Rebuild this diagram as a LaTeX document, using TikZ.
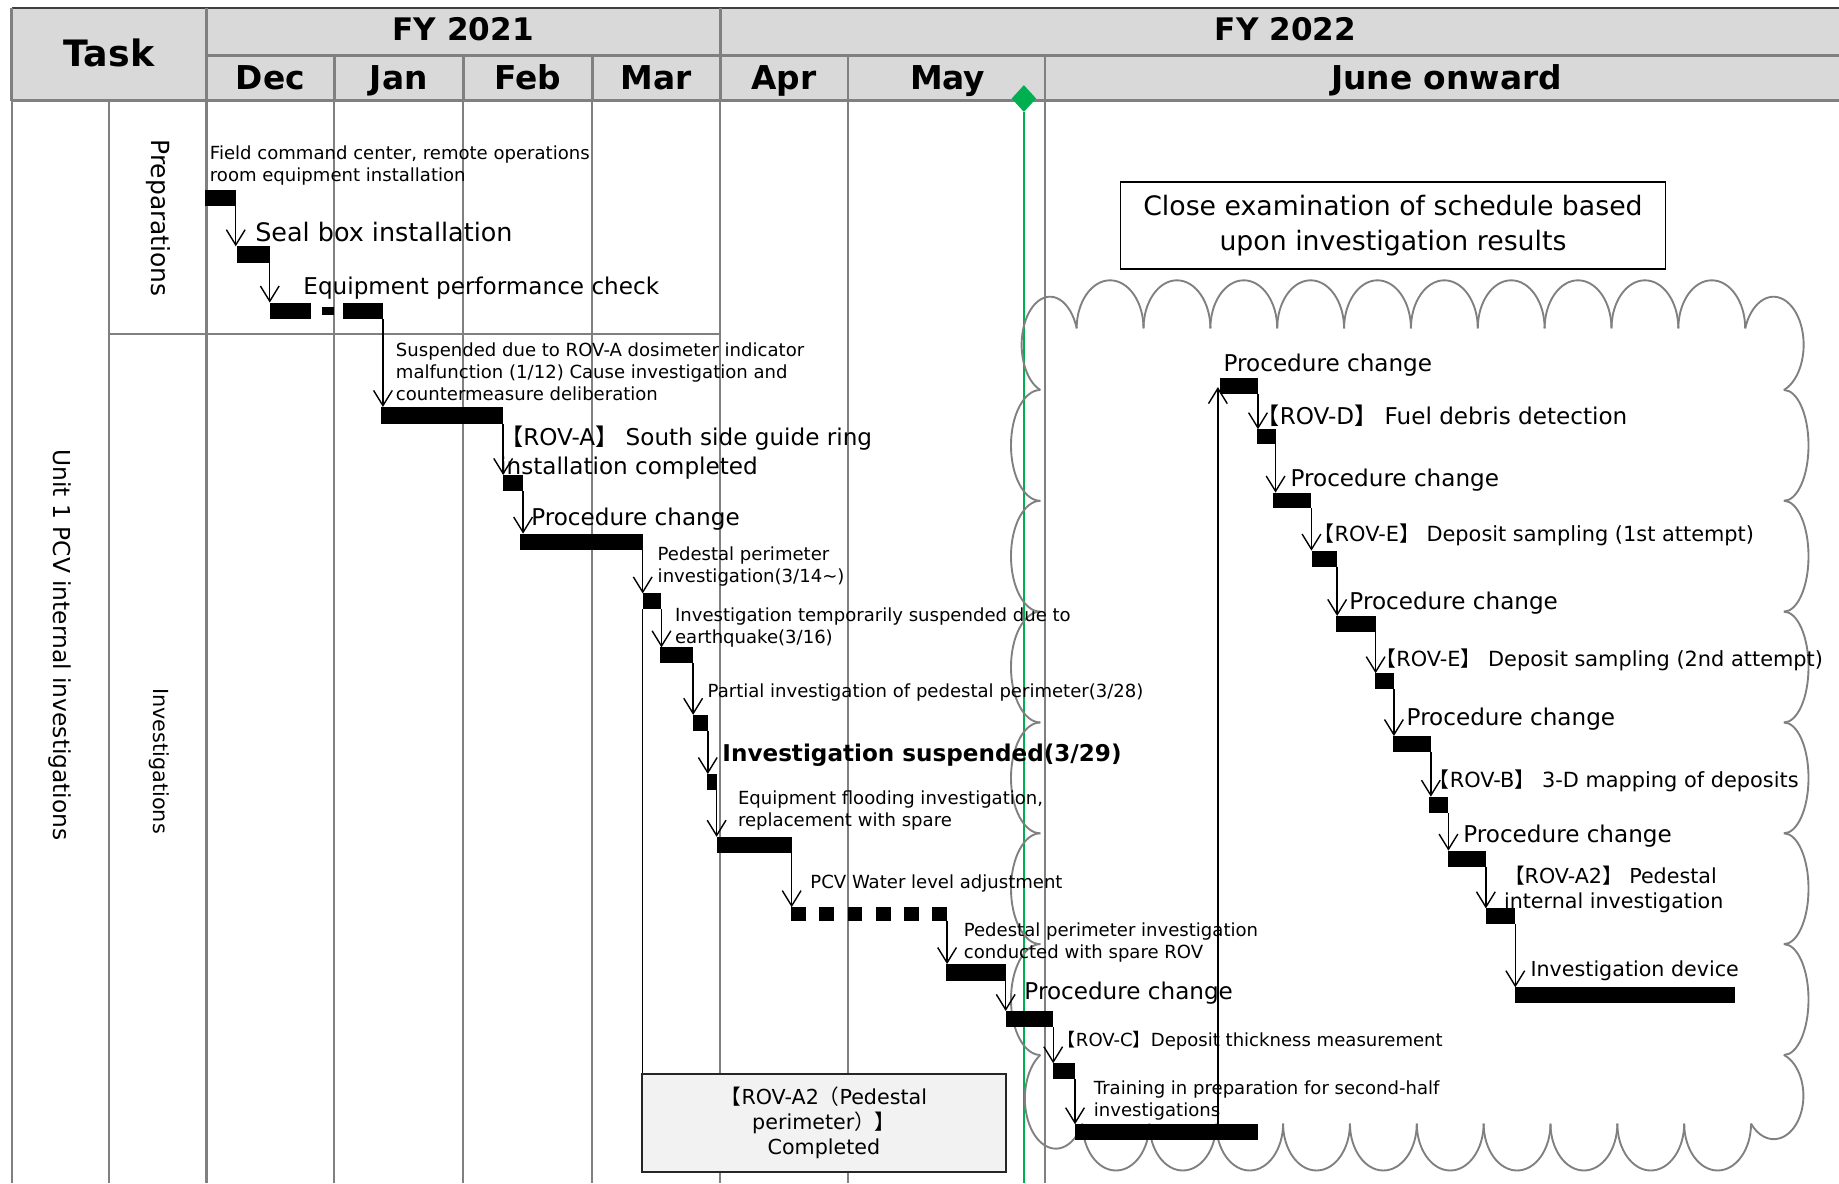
\documentclass[tikz,border=0pt]{standalone}
\usepackage{fontspec}
\setmainfont{DejaVu Sans}
\newfontfamily\cjkfont{Noto Sans CJK JP}
\usetikzlibrary{arrows.meta,shapes.geometric}
\definecolor{hdr}{HTML}{D9D9D9}
\definecolor{gridc}{HTML}{808080}
\definecolor{grn}{HTML}{00B050}
\definecolor{boxf}{HTML}{F2F2F2}
\newcommand\LB{{\cjkfont 【}}
\newcommand\RB{{\cjkfont 】}}
\newcommand\LP{{\cjkfont （}}
\newcommand\RP{{\cjkfont ）}}
\newcommand\ganttbar[5]{\node[bar, minimum width={(#4-#2)*1pt}, minimum height={(#5-#3)*1pt}] (#1) at ({(#2+#4)/2},{-(#3+#5)/2}) {};}
\begin{document}
\begin{tikzpicture}[x=1pt,y=1pt,
  bar/.style={fill=black, draw=none, inner sep=0pt, outer sep=0pt},
  arr/.style={draw=black, line width=1.2pt, -{Straight Barb[length=13pt, width=16pt, line width=1.2pt]}},
  thinblk/.style={draw=black, line width=1.2pt},
  gridline/.style={draw=gridc, line width=2pt},
  hdrline/.style={draw=gridc, line width=2.5pt},
  cloudline/.style={draw=gridc, line width=1.6pt},
  greenline/.style={draw=grn, line width=2pt},
  txt/.style={anchor=west, inner sep=0pt, outer sep=0pt, align=left},
  sm/.style={font=\fontsize{15.4}{18.8}\selectfont},
  md/.style={font=\fontsize{19.7}{24.2}\selectfont},
  rv/.style={font=\fontsize{17.8}{21.5}\selectfont},
  hd/.style={font=\bfseries\fontsize{28}{30}\selectfont, inner sep=0pt, anchor=base},
]
\useasboundingbox (0,0) rectangle (1568,-1009);
\fill[white] (0,0) rectangle (1568,-1009);

% ---------- header ----------
\fill[hdr] (10,-7) rectangle (1575,-86);
\draw[hdrline] (176,-47) -- (1575,-47);
\draw[hdrline] (10,-86) -- (1575,-86);
\draw[draw=black!75, line width=2pt] (10,-7) -- (1575,-7);
\foreach \gx in {10,176,614}{\draw[hdrline] (\gx,-7) -- (\gx,-86);}
\foreach \gx in {285,395,505,723,891}{\draw[hdrline] (\gx,-47) -- (\gx,-86);}
% body grid
\foreach \gx in {10,93,176,285,395,505,614,723,891}{\draw[gridline] (\gx,-86) -- (\gx,-1009);}
\draw[gridline] (93,-285) -- (614,-285);

\node[font=\bfseries\fontsize{31}{33}\selectfont, inner sep=0pt] (task) at (93,-45) {Task};
\node[font=\bfseries\fontsize{26.5}{28}\selectfont, inner sep=0pt, anchor=base] (fy1) at (395,-34.5) {FY 2021};
\node[font=\bfseries\fontsize{26.5}{28}\selectfont, inner sep=0pt, anchor=base] (fy2) at (1096,-34.5) {FY 2022};
\node[hd] (mdec) at (230.5,-76.5) {Dec};
\node[hd] (mjan) at (340,-76.5) {Jan};
\node[hd] (mfeb) at (450,-76.5) {Feb};
\node[hd] (mmar) at (559.5,-76.5) {Mar};
\node[hd] (mapr) at (668.5,-76.5) {Apr};
\node[hd] (mmay) at (808,-76.5) {May};
\node[hd] (mjun) at (1233.5,-76.5) {June onward};

% row labels
\node[rotate=-90, inner sep=0pt, font=\fontsize{19.9}{22}\selectfont] (unit) at (51,-550) {Unit 1 PCV internal investigations};
\node[rotate=-90, inner sep=0pt, font=\fontsize{21.3}{23}\selectfont] (prep) at (135,-186) {Preparations};
\node[rotate=-90, inner sep=0pt, font=\fontsize{17.7}{20}\selectfont] (inv) at (136,-649) {Investigations};

% ---------- today marker ----------
\node[diamond, fill=grn, inner sep=0pt, minimum width=21, minimum height=23] (today) at (873,-84) {};
\coordinate (todayend) at (873,-1009);
\draw[greenline] (today.south) -- (todayend);

% ---------- cloud ----------
\draw[cloudline] (887,-332.5) arc[start angle=250, end angle=20, x radius=24.2, y radius=41];
\foreach \i in {0,...,9}{\draw[cloudline] ({918+57*\i},-280) arc[start angle=180, end angle=0, x radius=28.5, y radius=41];}
\draw[cloudline] (1488,-280) arc[start angle=160, end angle=-70, x radius=25.7, y radius=41];
\foreach \i in {0,...,5}{\draw[cloudline] (1521,{-332.5-94.5*\i}) arc[start angle=90, end angle=-90, x radius=21, y radius=47.25];}
\draw[cloudline] (1521,-899.5) arc[start angle=70, end angle=-140, x radius=25.3, y radius=37];
\foreach \i in {0,...,9}{\draw[cloudline] ({923+57*\i},-958) arc[start angle=180, end angle=360, x radius=28.5, y radius=40];}
\draw[cloudline] (887,-899.5) arc[start angle=120, end angle=330, x radius=26.35, y radius=42.8];
\foreach \i in {0,...,5}{\draw[cloudline] (887,{-332.5-94.5*\i}) arc[start angle=90, end angle=270, x radius=25, y radius=47.25];}

% ---------- note boxes ----------
\node[draw=black, line width=1.5pt, fill=white, minimum width=464.7, minimum height=74.6, inner sep=0pt, align=center, font=\fontsize{22.8}{29.2}\selectfont] (note) at (1187.7,-192.3) {Close examination of schedule based\\upon investigation results};
\node[draw=black!85, line width=1.8pt, fill=boxf, minimum width=310, minimum height=83, inner sep=0pt, align=center, font=\fontsize{17.6}{21.3}\selectfont] (done) at (702.5,-957.5) {\LB ROV-A2\LP Pedestal\\perimeter\RP\RB\\Completed};

% ---------- bars ----------
\ganttbar{b1}{175}{162}{201}{175.5}
\ganttbar{b2}{201.7}{210}{230}{224}
\ganttbar{b3a}{230.2}{258}{265.2}{272}
\ganttbar{b3d}{274.2}{261.5}{284.5}{268.5}
\ganttbar{b3b}{292.7}{258}{326.5}{272}
\ganttbar{b4}{325}{347}{429}{361.5}
\ganttbar{b5}{429}{405}{446}{419}
\ganttbar{b6}{443}{455}{548}{469}
\ganttbar{b7}{548}{506}{564}{519.5}
\ganttbar{b8}{563}{552}{591}{565.5}
\ganttbar{b9}{591}{609.5}{603.5}{623}
\ganttbar{b10}{603}{660}{611}{674}
\ganttbar{b11}{611}{713.5}{675}{727}
\node[inner sep=0pt, outer sep=0pt, minimum width=133, minimum height=11.5] (b12) at (741,-779.25) {};
\draw[line width=11.5pt, dash pattern=on 12.5pt off 11.6pt] (b12.west) -- (b12.east);
\ganttbar{b13}{806.6}{822}{857.5}{836.5}
\ganttbar{b14}{857.5}{862}{898}{876}
\ganttbar{b15}{898}{906.6}{916.6}{920}
\ganttbar{b16}{916.6}{958.6}{1072.7}{972}
\ganttbar{cA}{1040.6}{322.6}{1072.6}{336.2}
\ganttbar{cB}{1071.6}{366}{1087.6}{378.8}
\ganttbar{cC}{1085.3}{420}{1118.2}{433.4}
\ganttbar{cD}{1118.6}{469.5}{1140.1}{483.2}
\ganttbar{cE}{1139.2}{525.2}{1172.9}{539.2}
\ganttbar{cF}{1172}{574}{1188.5}{587.8}
\ganttbar{cG}{1188}{627.6}{1220}{641.5}
\ganttbar{cH}{1218.5}{679.3}{1235}{693}
\ganttbar{cI}{1234.5}{725.3}{1266.9}{739}
\ganttbar{cJ}{1266.9}{774.5}{1292}{788}
\ganttbar{cK}{1291.8}{841.8}{1479.4}{855.5}

% ---------- arrows ----------
\draw[arr] (b1.south east) -- (b1.south east |- b2.north);
\draw[arr] (b2.south east) -- (b2.south east |- b3a.north);
\draw[arr] (b3b.south east) -- (b3b.south east |- b4.north);
\draw[arr] (b4.south east) -- (b4.south east |- b5.north);
\draw[arr] (b5.south east) -- (b5.south east |- b6.north);
\draw[arr] (b6.south east) -- (b6.south east |- b7.north);
\draw[arr] (b7.south east) -- (b7.south east |- b8.north);
\draw[arr] (b8.south east) -- (b8.south east |- b9.north);
\draw[arr] (b9.south east) -- (b9.south east |- b10.north);
\draw[arr] (b10.south east) -- (b10.south east |- b11.north);
\draw[arr] (b11.south east) -- (b11.south east |- b12.north);
\draw[arr] (b12.south east) -- (b12.south east |- b13.north);
\draw[arr] (b13.south east) -- (b13.south east |- b14.north);
\draw[arr] (b14.south east) -- (b14.south east |- b15.north);
\draw[arr] (b15.south east) -- (b15.south east |- b16.north);
\draw[thinblk] (b7.south west) -- (b7.south west |- done.north);
\coordinate (uptip) at (1038.4,-330);
\draw[arr] (uptip |- b16.north) -- (uptip);
\draw[arr] (cA.south east) -- (cA.south east |- cB.north);
\draw[arr] (cB.south east) -- (cB.south east |- cC.north);
\draw[arr] (cC.south east) -- (cC.south east |- cD.north);
\draw[arr] (cD.south east) -- (cD.south east |- cE.north);
\draw[arr] (cE.south east) -- (cE.south east |- cF.north);
\draw[arr] (cF.south east) -- (cF.south east |- cG.north);
\draw[arr] (cG.south east) -- (cG.south east |- cH.north);
\draw[arr] (cH.south east) -- (cH.south east |- cI.north);
\draw[arr] (cI.south east) -- (cI.south east |- cJ.north);
\draw[arr] (cJ.south east) -- (cJ.south east |- cK.north);

% ---------- labels ----------
\node[txt, sm] (t1) at (179,-140.9) {Field command center, remote operations\\room equipment installation};
\node[txt, font=\fontsize{21.7}{24}\selectfont] (t2) at (217.7,-198) {Seal box installation};
\node[txt, md] (t3) at (258.7,-245.9) {Equipment performance check};
\node[txt, sm] (t4) at (337.6,-316.6) {Suspended due to ROV-A dosimeter indicator\\malfunction (1/12) Cause investigation and\\countermeasure deliberation};
\node[txt, md] (t5) at (426.5,-385.8) {\LB ROV-A\RB\ South side guide ring\\installation completed};
\node[txt, md] (t6) at (453,-442.8) {Procedure change};
\node[txt, sm] (t7) at (560.8,-483.2) {Pedestal perimeter\\investigation(3/14\textasciitilde)};
\node[txt, sm] (t8) at (575.6,-535) {Investigation temporarily suspended due to\\earthquake(3/16)};
\node[txt, sm] (t9) at (603.4,-590.6) {Partial investigation of pedestal perimeter(3/28)};
\node[txt, font=\bfseries\fontsize{19.7}{24}\selectfont] (t10) at (616,-643.8) {Investigation suspended(3/29)};
\node[txt, sm] (t11) at (629.3,-691.3) {Equipment flooding investigation,\\replacement with spare};
\node[txt, sm] (t12) at (691,-753.2) {PCV Water level adjustment};
\node[txt, sm] (t13) at (821.8,-804) {Pedestal perimeter investigation\\conducted with spare ROV};
\node[txt, md] (t14) at (873.5,-847) {Procedure change};
\node[txt, sm] (t15) at (902,-887.3) {\LB ROV-C\RB Deposit thickness measurement};
\node[txt, sm] (t16) at (932.7,-938.7) {Training in preparation for second-half\\investigations};

\node[txt, md] (c1) at (1043.3,-311) {Procedure change};
\node[txt, md] (c2) at (1071.5,-354.7) {\LB ROV-D\RB\ Fuel debris detection};
\node[txt, md] (c3) at (1100.4,-409.3) {Procedure change};
\node[txt, rv] (c4) at (1120.2,-456.2) {\LB ROV-E\RB\ Deposit sampling (1st attempt)};
\node[txt, md] (c5) at (1150.6,-514.4) {Procedure change};
\node[txt, rv] (c6) at (1172.7,-562.8) {\LB ROV-E\RB\ Deposit sampling (2nd attempt)};
\node[txt, md] (c7) at (1199.4,-613.3) {Procedure change};
\node[txt, rv] (c8) at (1218.3,-666) {\LB ROV-B\RB\ 3-D mapping of deposits};
\node[txt, md] (c9) at (1247.7,-712.8) {Procedure change};
\node[txt, font=\fontsize{17.6}{21.5}\selectfont] (c10) at (1282.4,-758.2) {\LB ROV-A2\RB\ Pedestal\\internal investigation};
\node[txt, font=\fontsize{17.6}{21}\selectfont] (c11) at (1305,-828) {Investigation device};
\end{tikzpicture}
\end{document}
